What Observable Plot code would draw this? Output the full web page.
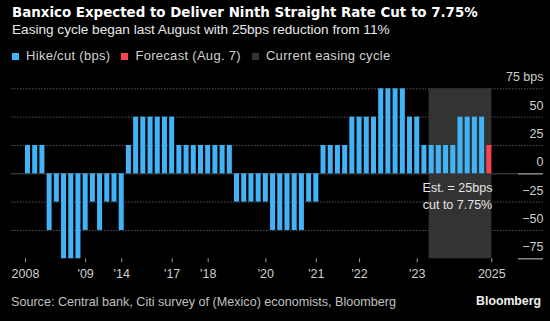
<!DOCTYPE html>
<html><head><meta charset="utf-8">
<script src="https://cdn.jsdelivr.net/npm/d3@7"></script>
<script src="https://cdn.jsdelivr.net/npm/@observablehq/plot@0.6"></script>
<style>
html,body{margin:0;padding:0;background:#000;}
#wrap{position:relative;width:550px;height:321px;overflow:hidden;background:#000;font-family:"Liberation Sans",Arial,sans-serif;}
.t{position:absolute;white-space:nowrap;line-height:16px;}
#title{left:12px;top:5px;font-family:"DejaVu Sans",sans-serif;font-weight:bold;font-size:13.4px;color:#fff;}
#subtitle{left:12px;top:21.5px;font-size:13.6px;color:#e8e8e8;}
#legend{left:12px;top:48px;font-size:13px;letter-spacing:0.3px;color:#d0d0d0;height:16px;}
#legend span.item{display:inline-block;margin-right:11px;}
#legend i{display:inline-block;width:7px;height:7px;margin-right:7px;vertical-align:0px;}
#chart{position:absolute;left:0;top:66px;}
#source{left:11px;top:293.5px;font-size:12.6px;color:#c0c0c0;}
#brand{right:9px;top:293px;font-size:12.3px;font-weight:bold;color:#f0f0f0;}
</style>
</head><body>
<div id="wrap">
  <div class="t" id="title"></div>
  <div class="t" id="subtitle"></div>
  <div class="t" id="legend"></div>
  <div id="chart"></div>
  <div class="t" id="source"></div>
  <div class="t" id="brand"></div>
</div>
<script>
// ---- data ----
const titleText = "Banxico Expected to Deliver Ninth Straight Rate Cut to 7.75%";
const subtitleText = "Easing cycle began last August with 25bps reduction from 11%";
const sourceText = "Source: Central bank, Citi survey of (Mexico) economists, Bloomberg";
const brandText = "Bloomberg";
const legendLabels = ["Hike/cut (bps)", "Forecast (Aug. 7)", "Current easing cycle"];
const legendColors = ["#40b4f7", "#f8444f", "#333333"];

// each rate decision, in order (bps)
const moves = [
  25, 25, 25,
  -50, -25, -75, -75, -75, -50, -25, -50, -25, -25, -50,
  25,
  50, 50, 50, 50, 50, 50,
  25, 25, 25, 25, 25, 25, 25, 25,
  -25, -25, -25, -25, -25,
  -50, -50, -50, -50, -50,
  -25, -25,
  25, 25, 25, 25,
  50, 50, 50, 50,
  75, 75, 75, 75,
  50, 50,
  25,
  25, 25, 25, 25,
  50, 50, 50, 50,
  25
];
const forecastIndex = 64;      // last bar is the forecast
const easingStartIndex = 56;   // first decision of the current easing cycle
const tickBars = [0, 8, 13, 20, 25, 33, 40, 46, 54, 64];
const tickLabels = ["2008", "'09", "'14", "'17", "'18", "'20", "'21", "'22", "'23", "2025"];
const yTicks = [-75, -50, -25, 0, 25, 50, 75];
const gridValues = [-50, -25, 25, 50, 75];
const annotationText = "Est. = 25bps\ncut to 7.75%";
const annotationY = -19;

// ---- header / legend ----
document.getElementById("title").textContent = titleText;
document.getElementById("subtitle").textContent = subtitleText;
document.getElementById("source").textContent = sourceText;
document.getElementById("brand").textContent = brandText;
const lg = document.getElementById("legend");
legendLabels.forEach((l, k) => {
  const s = document.createElement("span");
  s.className = "item";
  const sw = document.createElement("i");
  sw.style.background = legendColors[k];
  s.appendChild(sw);
  s.appendChild(document.createTextNode(l));
  lg.appendChild(s);
});

// ---- chart ----
const step = 7.208, barW = 5;
const bw = barW / step;
const n = moves.length;
const data = moves.map((v, i) => ({i, v, forecast: i === forecastIndex}));
const tickPos = tickBars.map((b, k) => k === 0 ? b : k === tickBars.length - 1 ? b + bw : b + bw / 2);
const labelByPos = new Map(tickPos.map((p, k) => [p, tickLabels[k]]));

const chart = Plot.plot({
  width: 550,
  height: 224,
  marginTop: 22.3,
  marginBottom: 31.7,
  marginLeft: 11,
  marginRight: 7,
  x: {domain: [0, n], range: [25, 25 + step * n], label: null},
  y: {domain: [-75, 75], label: null},
  style: {background: "#000", color: "#ccc", fontFamily: "Liberation Sans, Arial, sans-serif", fontSize: "12px"},
  marks: [
    Plot.gridY(gridValues, {stroke: "#555", strokeOpacity: 1, strokeDasharray: "1.5,1.5"}),
    Plot.rect([{a: easingStartIndex, b: n}], {x1: "a", x2: "b", y1: () => -75, y2: () => 75, fill: legendColors[2], insetRight: step - barW}),
    Plot.ruleY([0], {stroke: "#333", strokeWidth: 1.5, insetRight: 25}),
    Plot.ruleY([0, -75], {stroke: "#8a8a8a", strokeWidth: 1.5, insetLeft: 507}),
    Plot.rect(data, {
      x1: "i",
      x2: d => d.i + 1,
      y1: () => 0,
      y2: "v",
      fill: d => d.forecast ? legendColors[1] : legendColors[0],
      insetRight: step - barW
    }),
    Plot.text([annotationText], {
      x: () => (easingStartIndex + forecastIndex + bw) / 2,
      y: () => annotationY,
      text: d => d,
      dx: -3,
      fill: "#e6e6e6",
      fontSize: 12.5,
      lineHeight: 1.33,
      textAnchor: "middle"
    }),
    Plot.axisY(yTicks, {
      anchor: "right",
      tickSize: 0,
      tickPadding: 0,
      textAnchor: "end",
      dy: -11.6,
      fill: "#cfcfcf",
      fontSize: 12.5,
      tickFormat: d => d === 75 ? "75 bps" : d < 0 ? "\u2212" + (-d) : String(d)
    }),
    Plot.axisX(tickPos, {
      tickSize: 4,
      tickPadding: 6,
      stroke: "#9a9a9a",
      fill: "#cfcfcf",
      fontSize: 12.5,
      tickFormat: d => labelByPos.get(d)
    })
  ]
});
document.getElementById("chart").appendChild(chart);
</script>
</body></html>
